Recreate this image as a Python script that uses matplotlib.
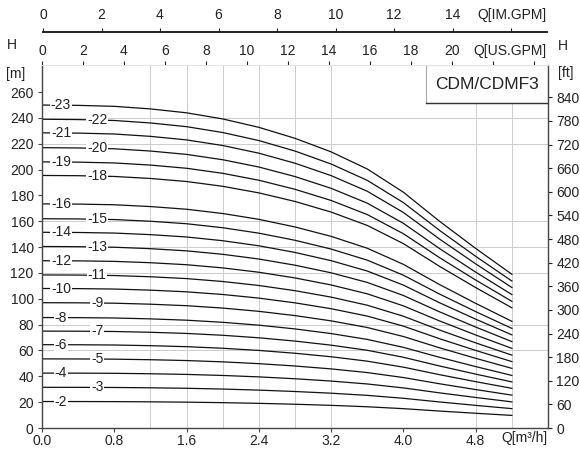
import numpy as np
import matplotlib
matplotlib.use("Agg")
import matplotlib.pyplot as plt
from matplotlib.patches import Rectangle

plt.rcParams['font.family'] = ['Liberation Sans', 'DejaVu Sans']

# ---- data ----
stages = [23, 22, 21, 20, 19, 18, 16, 15, 14, 13, 12, 11, 10, 9, 8, 7, 6, 5, 4, 3, 2]
shutoff_head = [250, 239, 228.5, 217, 206, 195.5, 173.5, 162, 151.5, 140.5, 129.5,
                118.5, 108, 97, 85.5, 75, 64.5, 53.5, 42.5, 31.5, 20.5]
flow_pts = [0, 0.4, 0.8, 1.2, 1.6, 2.0, 2.4, 2.8, 3.2, 3.6, 4.0, 4.4, 4.8, 5.2]
head_ratio = [1.000, 0.999, 0.996, 0.988, 0.976, 0.957, 0.931, 0.897, 0.855,
              0.802, 0.730, 0.640, 0.556, 0.476]
x_ticks = [0.0, 0.8, 1.6, 2.4, 3.2, 4.0, 4.8]
x_ticklabels = ["0.0", "0.8", "1.6", "2.4", "3.2", "4.0", "4.8"]
m_ticks = list(range(0, 261, 20))
ft_ticks = list(range(0, 841, 60))
us_ticks = list(range(0, 25, 2))
us_labels = [str(v) for v in range(0, 21, 2)] + ["", ""]
im_ticks = list(range(0, 17, 2))
im_labels = [str(v) for v in range(0, 15, 2)] + [""]
grid_q = [1.2, 1.6, 2.0, 2.4, 2.8, 3.2, 4.8, 5.2]
grid_h = [60, 80, 120, 140, 160, 220, 240]
label_q = [0.21, 0.61]

W, H = 580, 449
fig = plt.figure(figsize=(W / 100, H / 100), dpi=100)

L, R, B, T = 42, 548, 428, 65
ax = fig.add_axes([L / W, 1 - B / H, (R - L) / W, (B - T) / H])
ymax = 281
ax.set_xlim(0, 5.6)
ax.set_ylim(0, ymax)

for q in grid_q:
    ax.axvline(q, color='#cccccc', lw=0.7, zorder=1)
for h in grid_h:
    ax.axhline(h, color='#cccccc', lw=0.7, zorder=1)

flow = np.array(flow_pts)
ratio = np.array(head_ratio)
for i, (n, h0) in enumerate(zip(stages, shutoff_head)):
    heads = h0 * ratio
    ax.plot(flow, heads, color='#111111', lw=0.9, zorder=2)
    lq = label_q[i % 2]
    ax.text(lq, np.interp(lq, flow, heads), f"-{n}", fontsize=10, ha='center', va='center',
            color='#222222', zorder=3,
            bbox=dict(facecolor='white', edgecolor='none', pad=0.6))

ax.set_xticks(x_ticks)
ax.set_xticklabels(x_ticklabels)
ax.set_yticks(m_ticks)
ax.tick_params(axis='both', labelsize=10, colors='#222222')
ax.tick_params(axis='x', length=3, pad=1.5, color='#444444')
ax.tick_params(axis='y', length=3, pad=3, color='#444444')
for s in ['left', 'bottom']:
    ax.spines[s].set_color('#444444')
    ax.spines[s].set_linewidth(1.0)
ax.spines['top'].set_visible(False)
ax.spines['right'].set_visible(False)

# right ft axis
ax2 = ax.twinx()
ax2.set_ylim(0, ymax * 3.2808)
ax2.set_yticks(ft_ticks)
ax2.tick_params(axis='y', labelsize=10, length=3, pad=3, colors='#222222')
ax2.spines['right'].set_color('#444444')
ax2.spines['right'].set_linewidth(1.0)
for s in ['left', 'top', 'bottom']:
    ax2.spines[s].set_visible(False)

# top US GPM axis
ax3 = ax.twiny()
ax3.set_xlim(0, (R - L) / 20.5)
ax3.set_xticks(us_ticks)
ax3.set_xticklabels(us_labels)
ax3.tick_params(axis='x', labelsize=10, length=3, pad=2, colors='#222222')
for s in ['left', 'right', 'bottom']:
    ax3.spines[s].set_visible(False)
ax3.spines['top'].set_color('#e4e4e4')
ax3.spines['top'].set_linewidth(0.7)

# IM GPM axis
ax4 = fig.add_axes([43 / W, 1 - 32 / H, (547 - 43) / W, 0.0001])
ax4.set_xlim(0, (547 - 43) / 29.25)
ax4.set_yticks([])
ax4.set_xticks(im_ticks)
ax4.set_xticklabels(im_labels)
ax4.tick_params(axis='x', bottom=False, top=True, labelbottom=False, labeltop=True,
                direction='out', length=3, pad=4, labelsize=10, colors='#222222')
for s in ['left', 'right', 'top']:
    ax4.spines[s].set_visible(False)
ax4.spines['bottom'].set_linewidth(1.4)
ax4.spines['bottom'].set_color('#222222')
ax4.patch.set_visible(False)

# axis titles
fig.text(547 / W, 1 - 15 / H, "Q[IM.GPM]", ha='right', va='center', fontsize=10, color='#222222')
fig.text(547 / W, 1 - 51 / H, "Q[US.GPM]", ha='right', va='center', fontsize=10, color='#222222')
fig.text(548 / W, 1 - 438 / H, "Q[m³/h]", ha='right', va='center', fontsize=10, color='#222222')
fig.text(12 / W, 1 - 45 / H, "H", ha='center', va='center', fontsize=10, color='#222222')
fig.text(16 / W, 1 - 74 / H, "[m]", ha='center', va='center', fontsize=10, color='#222222')
fig.text(563 / W, 1 - 46 / H, "H", ha='center', va='center', fontsize=10, color='#222222')
fig.text(566 / W, 1 - 73 / H, "[ft]", ha='center', va='center', fontsize=10, color='#222222')

# model box
bx0 = (426 - L) / (R - L)
by0 = 1 - (103 - T) / (B - T)
ax.add_patch(Rectangle((bx0, by0), 1 - bx0, 1 - by0, transform=ax.transAxes,
                       facecolor='white', edgecolor='#aaaaaa', lw=0.8, zorder=4))
ax.plot([bx0, 1], [by0, by0], transform=ax.transAxes, color='#333333', lw=1.0, zorder=5)
ax.text((bx0 + 1) / 2, (by0 + 1) / 2, "CDM/CDMF3", transform=ax.transAxes,
        ha='center', va='center', fontsize=12.5, color='#222222', zorder=6)

fig.savefig("out.png", dpi=100)
